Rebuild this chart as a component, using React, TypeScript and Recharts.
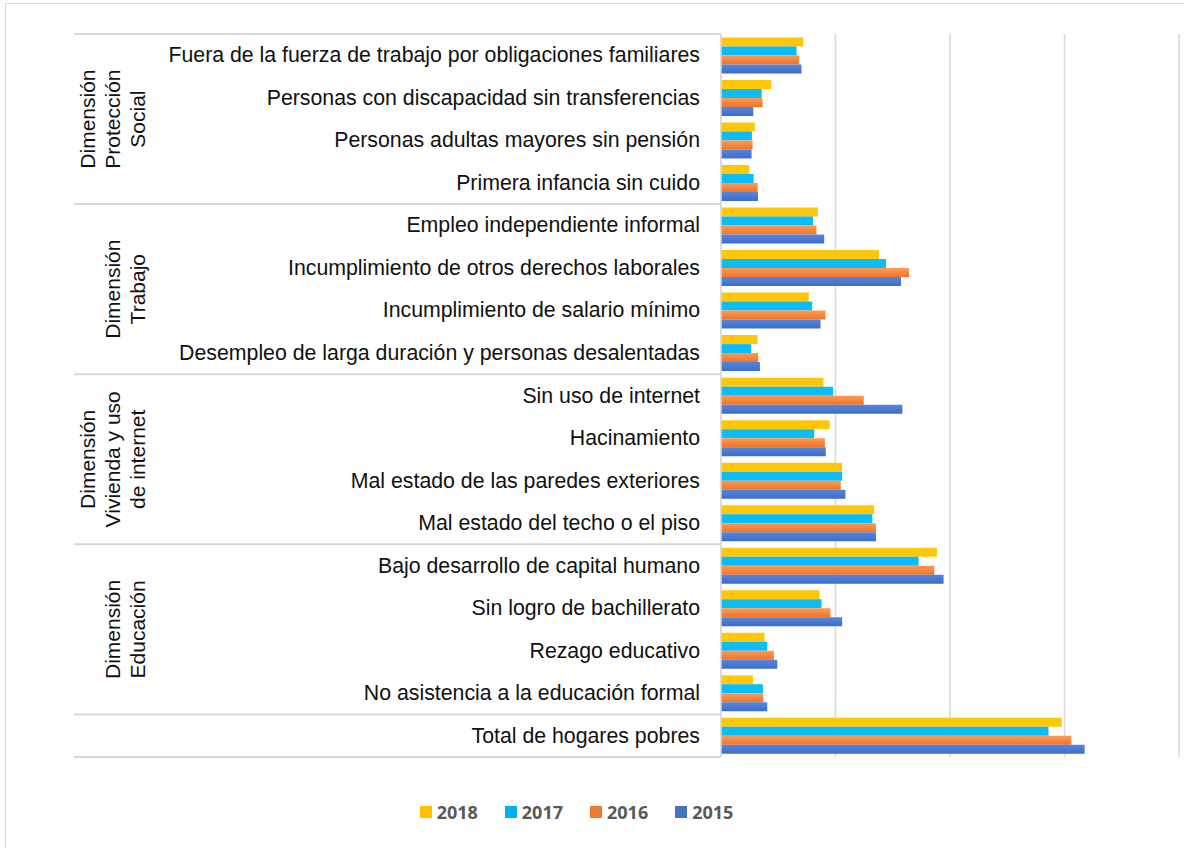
import { BarChart, Bar, XAxis, YAxis, CartesianGrid, Legend } from 'recharts'

// hogares (miles) por indicador, de arriba hacia abajo
const categories = [
  'Fuera de la fuerza de trabajo por obligaciones familiares',
  'Personas con discapacidad sin transferencias',
  'Personas adultas mayores sin pensión',
  'Primera infancia sin cuido',
  'Empleo independiente informal',
  'Incumplimiento de otros derechos laborales',
  'Incumplimiento de salario mínimo',
  'Desempleo de larga duración y personas desalentadas',
  'Sin uso de internet',
  'Hacinamiento',
  'Mal estado de las paredes exteriores',
  'Mal estado del techo o el piso',
  'Bajo desarrollo de capital humano',
  'Sin logro de bachillerato',
  'Rezago educativo',
  'No asistencia a la educación formal',
  'Total de hogares pobres',
]

const groupLabels = [
  ['Dimensión', 'Protección', 'Social'],
  ['Dimensión', 'Trabajo'],
  ['Dimensión', 'Vivienda y uso', 'de internet'],
  ['Dimensión', 'Educación'],
  [],
]
const groupSizes = [4, 4, 4, 4, 1]

const years = ['2018', '2017', '2016', '2015']
const values2018 = [71.8, 43.9, 29.6, 24.7, 84.6, 138.0, 76.7, 32.0, 89.5, 95.0, 105.8, 133.7, 188.6, 86.0, 38.1, 27.9, 297.6]
const values2017 = [66.0, 35.5, 27.0, 28.5, 80.5, 144.1, 79.6, 26.4, 97.9, 81.4, 105.8, 132.2, 172.6, 87.8, 40.4, 36.6, 286.0]
const values2016 = [68.3, 36.3, 27.6, 32.0, 83.4, 164.2, 91.3, 32.5, 124.7, 90.7, 104.6, 135.4, 186.3, 95.6, 46.2, 36.9, 306.0]
const values2015 = [70.3, 28.2, 26.7, 32.3, 90.1, 157.2, 86.9, 34.0, 158.4, 91.5, 108.7, 135.4, 194.4, 105.8, 49.1, 40.4, 317.6]

const xTicks = [0, 100, 200, 300, 400]

const COLORS = ['#FFC70A', '#0ABDF7', 'url(#grad2016)', 'url(#grad2015)']
const LEGEND_COLORS = ['#FFC000', '#00B0F0', '#F07A2E', '#4472C4']

const data = categories.map((name, i) => ({
  name,
  y2018: values2018[i],
  y2017: values2017[i],
  y2016: values2016[i],
  y2015: values2015[i],
}))

const groupStarts = groupSizes.map((_, g) => groupSizes.slice(0, g).reduce((a, b) => a + b, 0))

const labelFont = '"Liberation Sans", Arial, sans-serif'

function CategoryTick(props: any) {
  const { y, payload } = props
  const i = payload.index
  const half = payload.offset ?? 21.25
  const g = groupStarts.indexOf(i)
  const top = y - half
  return (
    <g>
      <text x={700} y={y} textAnchor="end" dominantBaseline="central" fontSize={21.3} fontFamily={labelFont} fill="#111">
        {payload.value}
      </text>
      {g >= 0 && <line x1={74} x2={721} y1={top} y2={top} stroke="#d9d9d9" strokeWidth={2} />}
      {i === categories.length - 1 && <line x1={74} x2={721} y1={y + half} y2={y + half} stroke="#d9d9d9" strokeWidth={2} />}
      {g >= 0 && groupLabels[g].map((line, k) => {
        const n = groupLabels[g].length
        const lx = 138 - (n - 1 - k) * 25
        const cy = top + groupSizes[g] * half
        return (
          <text key={k} x={lx} y={cy} transform={`rotate(-90 ${lx} ${cy})`} textAnchor="middle"
            dominantBaseline="central" fontSize={21} fontFamily={labelFont} fill="#111">
            {line}
          </text>
        )
      })}
    </g>
  )
}

function LegendContent() {
  return (
    <div style={{ height: 66, boxSizing: 'border-box', paddingTop: 44, paddingRight: 26, display: 'flex', justifyContent: 'center' }}>
      {years.map((yr, i) => (
        <div key={yr} style={{ display: 'flex', alignItems: 'center', marginRight: i < years.length - 1 ? 27 : 0 }}>
          <div style={{ width: 12, height: 12, background: LEGEND_COLORS[i], marginRight: 5 }} />
          <span style={{ fontFamily: '"Open Sans", sans-serif', fontWeight: 700, fontSize: 18, color: '#595959', lineHeight: '20px' }}>{yr}</span>
        </div>
      ))}
    </div>
  )
}

export default function App() {
  return (
    <div style={{ position: 'absolute', left: 0, top: 0, width: 1184, height: 848, overflow: 'hidden', background: '#fff' }}>
      <div style={{ position: 'absolute', left: 5, top: 3, width: 1200, height: 900, border: '1.5px solid #d9d9d9' }} />
      <div style={{ position: 'absolute', left: 0, top: 0 }}>
        <BarChart width={1184} height={848} data={data} layout="vertical"
          margin={{ top: 34, right: 5, bottom: 25, left: 0 }} barGap={0} barCategoryGap="8%">
          <defs>
            <linearGradient id="grad2016" x1="0" y1="0" x2="0" y2="1">
              <stop offset="0%" stopColor="#FF9A55" />
              <stop offset="100%" stopColor="#EE7428" />
            </linearGradient>
            <linearGradient id="grad2015" x1="0" y1="0" x2="0" y2="1">
              <stop offset="0%" stopColor="#5585DC" />
              <stop offset="100%" stopColor="#3D6DC8" />
            </linearGradient>
          </defs>
          <CartesianGrid horizontal={false} stroke="#d9d9d9" strokeWidth={1.5} />
          <XAxis type="number" domain={[0, 400]} ticks={xTicks} hide />
          <YAxis type="category" dataKey="name" width={721} interval={0} tickLine={false}
            axisLine={{ stroke: '#d9d9d9', strokeWidth: 1.5 }} tick={<CategoryTick />} />
          {years.map((yr, i) => (
            <Bar key={yr} dataKey={`y${yr}`} name={yr} fill={COLORS[i]} isAnimationActive={false} />
          ))}
          <Legend verticalAlign="bottom" height={66} content={<LegendContent />} />
        </BarChart>
      </div>
    </div>
  )
}
